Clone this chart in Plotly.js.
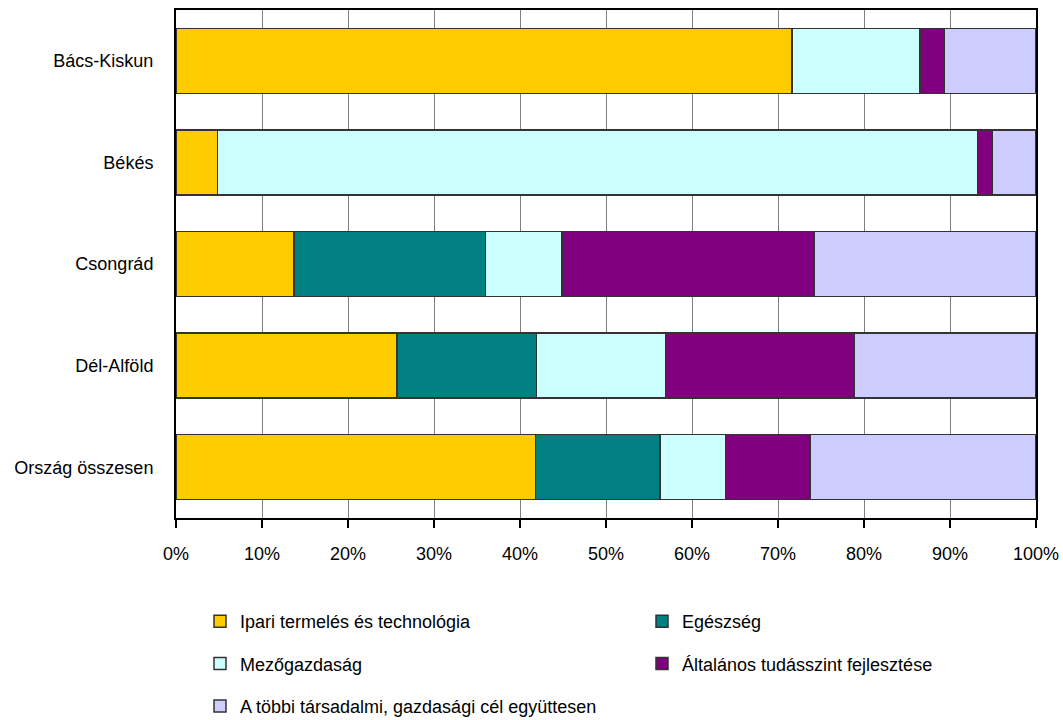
<!DOCTYPE html>
<html>
<head>
<meta charset="utf-8">
<script src="https://cdn.plot.ly/plotly-3.0.1.min.js"></script>
<style>html,body{margin:0;padding:0;background:#fff;}#chart{width:1063px;height:720px;}</style>
</head>
<body>
<div id="chart"></div>
<script>
const categories = ["Bács-Kiskun", "Békés", "Csongrád", "Dél-Alföld", "Ország összesen"];
const seriesNames = ["Ipari termelés és technológia", "Egészség", "Mezőgazdaság", "Általános tudásszint fejlesztése", "A többi társadalmi, gazdasági cél együttesen"];
const ipari = [71.6, 4.8, 13.7, 25.7, 41.8];
const egeszseg = [0, 0, 22.3, 16.2, 14.5];
const mezogazdasag = [14.9, 88.4, 8.9, 15.0, 7.6];
const altalanos = [2.8, 1.7, 29.3, 22.0, 9.9];
const tobbi = [10.7, 5.1, 25.8, 21.1, 26.2];
const colors = ["#FFCC00", "#008080", "#CCFFFF", "#800080", "#CCCCFF"];
const tickVals = [0, 10, 20, 30, 40, 50, 60, 70, 80, 90, 100];
const tickText = ["0%", "10%", "20%", "30%", "40%", "50%", "60%", "70%", "80%", "90%", "100%"];

const allSeries = [ipari, egeszseg, mezogazdasag, altalanos, tobbi];
const legendIds = ["legend", "legend2", "legend", "legend2", "legend"];
const FONT = "Liberation Sans, Arial, sans-serif";

const traces = allSeries.map((vals, i) => ({
  type: "bar",
  orientation: "h",
  name: seriesNames[i],
  y: categories,
  x: vals,
  legend: legendIds[i],
  legendgroup: "g" + i,
  marker: {color: colors[i], line: {color: "#333333", width: 1.5}},
  hoverinfo: "x+name"
}));

const legendBase = {
  orientation: "v",
  traceorder: "grouped",
  tracegroupgap: 16,
  xref: "container",
  yref: "container",
  xanchor: "left",
  yanchor: "top",
  y: 1 - 603 / 720,
  font: {family: FONT, size: 18, color: "#000"},
  bgcolor: "rgba(0,0,0,0)",
  itemclick: false,
  itemdoubleclick: false
};

const layout = {
  width: 1063,
  height: 720,
  margin: {l: 176, r: 27, t: 10, b: 202, autoexpand: false},
  paper_bgcolor: "#fff",
  plot_bgcolor: "#fff",
  barmode: "stack",
  bargap: 0.36,
  font: {family: FONT, size: 18, color: "#000"},
  xaxis: {
    range: [0, 100],
    tickvals: tickVals,
    ticktext: tickText,
    showgrid: true,
    gridcolor: "#808080",
    gridwidth: 1,
    showline: true,
    linecolor: "#000",
    linewidth: 2,
    mirror: true,
    ticks: "outside",
    ticklen: 8,
    tickcolor: "#000",
    tickwidth: 2,
    zeroline: false,
    ticklabelstandoff: 10,
    tickfont: {family: FONT, size: 18, color: "#000"},
    fixedrange: true
  },
  yaxis: {
    autorange: "reversed",
    showgrid: false,
    showline: true,
    linecolor: "#000",
    linewidth: 2,
    mirror: true,
    ticks: "",
    ticklabelstandoff: 17,
    tickfont: {family: FONT, size: 18, color: "#000"},
    fixedrange: true
  },
  showlegend: true,
  legend: Object.assign({}, legendBase, {x: 200 / 1063}),
  legend2: Object.assign({}, legendBase, {x: 642 / 1063})
};

Plotly.newPlot("chart", traces, layout, {displayModeBar: false});
</script>
</body>
</html>
